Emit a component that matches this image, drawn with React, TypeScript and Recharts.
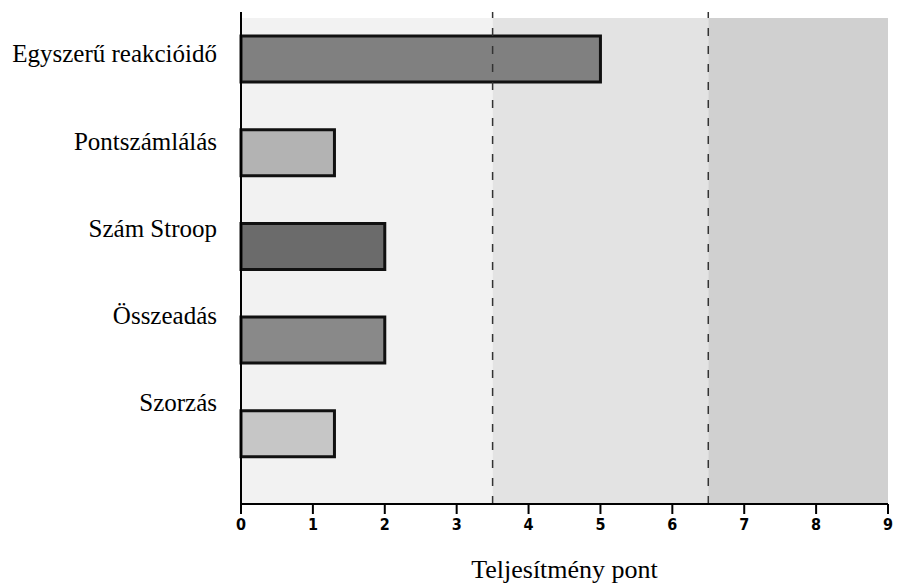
import React from 'react';
import {
  BarChart,
  Bar,
  Cell,
  XAxis,
  YAxis,
  ReferenceArea,
  ReferenceLine
} from 'recharts';

const categories = ['Egyszerű reakcióidő', 'Pontszámlálás', 'Szám Stroop', 'Összeadás', 'Szorzás'];
const scores = [5, 1.3, 2, 2, 1.3];
const xTicks = [0, 1, 2, 3, 4, 5, 6, 7, 8, 9];
const zoneBounds = [0, 3.5, 6.5, 9];
const dividers = [3.5, 6.5];

const barFills = ['#808080', '#b3b3b3', '#6b6b6b', '#898989', '#c6c6c6'];
const zoneFills = ['#f2f2f2', '#e3e3e3', '#d0d0d0'];
// the shaded zones start a little below the top of the axis line
const BG_INSET = 6;

const serif = "'Liberation Serif', 'Times New Roman', serif";
const narrow = "'Liberation Sans Narrow', 'DejaVu Sans Condensed', 'Liberation Sans', sans-serif";

const data = categories.map((name, i) => ({ name, score: scores[i] }));

const ZoneRect = (props: any) => {
  const { x, y, width, height, fill } = props;
  return <rect x={x} y={y + BG_INSET} width={width} height={height - BG_INSET} fill={fill} stroke="none" />;
};

export default function App() {
  return (
    <div style={{ width: 900, height: 583 }}>
      <style>{'body{margin:0}'}</style>
      <BarChart
        width={900}
        height={583}
        data={data}
        layout="vertical"
        margin={{ top: 12, right: 12, bottom: 0, left: 0 }}
      >
        <XAxis
          type="number"
          domain={[0, 9]}
          ticks={xTicks}
          interval={0}
          height={79}
          axisLine={{ stroke: '#000', strokeWidth: 2 }}
          tickLine={{ stroke: '#000', strokeWidth: 2 }}
          tickSize={10}
          tickMargin={5}
          tick={{ fill: '#000', fontSize: 16, fontWeight: 'bold', fontFamily: narrow }}
          label={{
            value: 'Teljesítmény pont',
            position: 'insideBottom',
            offset: 5,
            style: { fill: '#000', fontSize: 26, fontFamily: serif }
          }}
        />
        <YAxis
          yAxisId="labels"
          type="category"
          dataKey="name"
          width={241}
          interval={0}
          padding={{ top: -2, bottom: 58 }}
          axisLine={{ stroke: '#000', strokeWidth: 2 }}
          tickLine={false}
          tickSize={6}
          tickMargin={18}
          tick={{ fill: '#000', fontSize: 25, fontFamily: serif }}
        />
        <YAxis yAxisId="bars" type="category" dataKey="name" hide width={0} padding={{ top: 0, bottom: 23.5 }} />
        <YAxis yAxisId="full" type="category" dataKey="name" hide width={0} />

        {zoneFills.map((fill, i) => (
          <ReferenceArea
            key={fill}
            yAxisId="full"
            x1={zoneBounds[i]}
            x2={zoneBounds[i + 1]}
            fill={fill}
            fillOpacity={1}
            stroke="none"
            shape={ZoneRect}
          />
        ))}
        {dividers.map(v => (
          <ReferenceLine
            key={v}
            yAxisId="full"
            x={v}
            stroke="#333"
            strokeWidth={1.5}
            strokeDasharray="8 10"
          />
        ))}

        <Bar
          yAxisId="bars"
          dataKey="score"
          barSize={46}
          stroke="#111"
          strokeWidth={3}
          isAnimationActive={false}
        >
          {data.map((d, i) => (
            <Cell key={d.name} fill={barFills[i]} />
          ))}
        </Bar>
      </BarChart>
    </div>
  );
}
